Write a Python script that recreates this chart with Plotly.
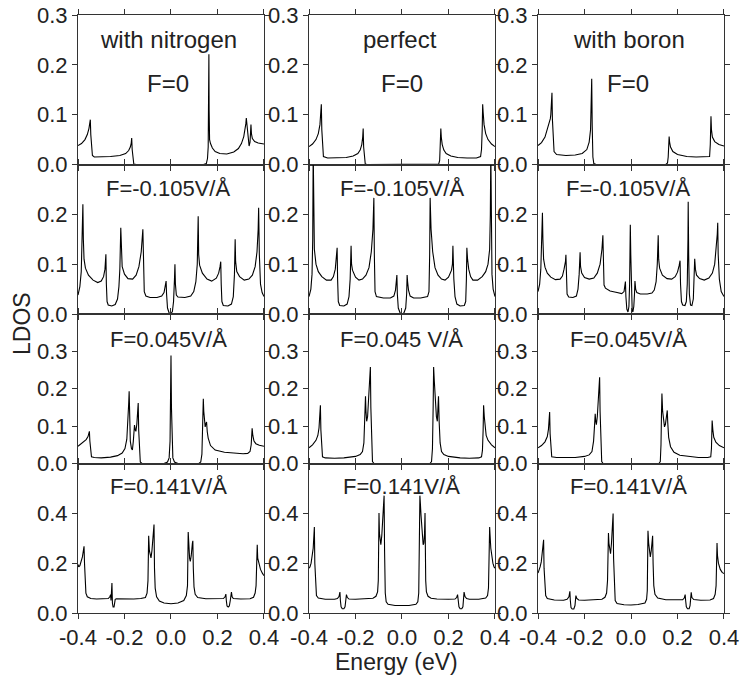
import plotly.graph_objects as go
from plotly.subplots import make_subplots

# ---------------- data (Energy in eV, LDOS) ----------------
# Row 1: F = 0
n_f0_x = [-0.400, -0.385, -0.370, -0.360, -0.353, -0.349, -0.347, -0.345, -0.342, -0.338, -0.330, -0.300, -0.260, -0.220,
          -0.195, -0.182, -0.175, -0.171, -0.169, -0.167, -0.164, -0.160, -0.150, 0.140, 0.152, 0.157, 0.160, 0.162,
          0.163, 0.164, 0.166, 0.170, 0.178, 0.190, 0.210, 0.240, 0.270, 0.290, 0.303, 0.313, 0.319, 0.322, 0.324,
          0.327, 0.331, 0.336, 0.340, 0.343, 0.344, 0.346, 0.350, 0.360, 0.375, 0.400]
n_f0_y = [0.038, 0.042, 0.050, 0.060, 0.072, 0.083, 0.090, 0.060, 0.030, 0.018, 0.015, 0.015, 0.016, 0.018,
          0.022, 0.028, 0.035, 0.043, 0.053, 0.030, 0.008, 0.001, 0.000, 0.000, 0.002, 0.012, 0.035, 0.120,
          0.221, 0.110, 0.050, 0.042, 0.033, 0.026, 0.022, 0.021, 0.025, 0.032, 0.042, 0.056, 0.070, 0.082, 0.093,
          0.075, 0.050, 0.037, 0.045, 0.065, 0.080, 0.062, 0.052, 0.046, 0.043, 0.041]

p_f0_x = [-0.400, -0.385, -0.370, -0.360, -0.353, -0.349, -0.347, -0.345, -0.342, -0.338, -0.320, -0.280, -0.240,
          -0.210, -0.190, -0.180, -0.173, -0.169, -0.167, -0.165, -0.162, -0.158, -0.150, 0.150, 0.158, 0.162, 0.165,
          0.167, 0.169, 0.173, 0.180, 0.190, 0.210, 0.240, 0.280, 0.320, 0.338, 0.342, 0.345, 0.347, 0.349, 0.353,
          0.360, 0.370, 0.385, 0.400]
p_f0_y = [0.036, 0.041, 0.050, 0.062, 0.080, 0.105, 0.121, 0.070, 0.030, 0.016, 0.013, 0.013, 0.014,
          0.017, 0.022, 0.029, 0.040, 0.055, 0.072, 0.035, 0.008, 0.001, 0.000, 0.000, 0.001, 0.008, 0.035,
          0.072, 0.055, 0.040, 0.029, 0.022, 0.017, 0.014, 0.013, 0.013, 0.016, 0.030, 0.070, 0.121, 0.105, 0.080,
          0.062, 0.050, 0.041, 0.036]

b_f0_x = [-0.400, -0.385, -0.370, -0.358, -0.350, -0.347, -0.345, -0.342, -0.340, -0.338, -0.335, -0.331, -0.320,
          -0.280, -0.240, -0.210, -0.190, -0.180, -0.174, -0.171, -0.169, -0.167, -0.164, -0.160, -0.150, 0.150,
          0.157, 0.160, 0.162, 0.164, 0.166, 0.170, 0.180, 0.200, 0.240, 0.280, 0.320, 0.338, 0.341, 0.343, 0.344,
          0.346, 0.350, 0.360, 0.378, 0.400]
b_f0_y = [0.038, 0.044, 0.055, 0.072, 0.088, 0.092, 0.100, 0.125, 0.144, 0.090, 0.045, 0.026, 0.020,
          0.018, 0.019, 0.022, 0.030, 0.045, 0.070, 0.110, 0.172, 0.080, 0.015, 0.002, 0.000, 0.000,
          0.003, 0.015, 0.035, 0.056, 0.045, 0.035, 0.026, 0.020, 0.016, 0.015, 0.015, 0.016, 0.040, 0.080, 0.097,
          0.070, 0.055, 0.046, 0.040, 0.037]

# Row 2: F = -0.105 V/A
n_fm_x = [-0.400, -0.392, -0.386, -0.382, -0.379, -0.377, -0.374, -0.368, -0.355, -0.335, -0.315, -0.300, -0.290,
          -0.284, -0.280, -0.278, -0.275, -0.270, -0.255, -0.240, -0.230, -0.224, -0.220, -0.216, -0.214, -0.210,
          -0.200, -0.185, -0.165, -0.150, -0.138, -0.128, -0.121, -0.119, -0.115, -0.108, -0.090, -0.060, -0.040,
          -0.030, -0.024, -0.021, -0.019, -0.015, -0.008, 0.000, 0.006, 0.011, 0.015, 0.017, 0.019, 0.023, 0.030,
          0.060, 0.085, 0.098, 0.107, 0.113, 0.117, 0.119, 0.123, 0.135, 0.155, 0.175, 0.195, 0.205, 0.211, 0.214,
          0.216, 0.219, 0.225, 0.245, 0.260, 0.268, 0.273, 0.276, 0.278, 0.283, 0.295, 0.315, 0.335, 0.350, 0.362,
          0.370, 0.375, 0.377, 0.380, 0.385, 0.392, 0.400]
n_fm_y = [0.038, 0.055, 0.085, 0.140, 0.220, 0.150, 0.110, 0.092, 0.078, 0.068, 0.063, 0.066, 0.075,
          0.090, 0.120, 0.060, 0.025, 0.018, 0.016, 0.019, 0.030, 0.055, 0.090, 0.173, 0.120, 0.095,
          0.080, 0.071, 0.070, 0.078, 0.095, 0.125, 0.170, 0.090, 0.045, 0.036, 0.033, 0.033, 0.036,
          0.043, 0.055, 0.066, 0.040, 0.012, 0.002, 0.001, 0.005, 0.025, 0.070, 0.100, 0.060, 0.038, 0.034,
          0.033, 0.036, 0.045, 0.065, 0.100, 0.196, 0.120, 0.098, 0.082, 0.070, 0.066, 0.072, 0.082, 0.095, 0.105,
          0.060, 0.025, 0.017, 0.016, 0.020, 0.035, 0.080, 0.150, 0.105, 0.085, 0.075, 0.068, 0.070, 0.078, 0.095,
          0.125, 0.170, 0.213, 0.120, 0.060, 0.043, 0.035]

p_fm_x = [-0.400, -0.392, -0.387, -0.384, -0.382, -0.380, -0.377, -0.370, -0.360, -0.345, -0.325, -0.305, -0.295,
          -0.287, -0.282, -0.279, -0.277, -0.274, -0.268, -0.250, -0.236, -0.228, -0.223, -0.219, -0.217, -0.213,
          -0.200, -0.185, -0.170, -0.155, -0.142, -0.132, -0.125, -0.121, -0.119, -0.116, -0.110, -0.080, -0.050,
          -0.035, -0.028, -0.024, -0.022, -0.020, -0.016, -0.008, 0.000, 0.008, 0.016, 0.020, 0.022, 0.024, 0.028,
          0.035, 0.050, 0.080, 0.110, 0.116, 0.119, 0.121, 0.125, 0.132, 0.142, 0.155, 0.170, 0.185, 0.200, 0.213,
          0.217, 0.219, 0.223, 0.228, 0.236, 0.250, 0.268, 0.274, 0.277, 0.279, 0.282, 0.287, 0.295, 0.305, 0.325,
          0.345, 0.360, 0.370, 0.377, 0.380, 0.382, 0.384, 0.387, 0.392, 0.400]
p_fm_y = [0.035, 0.050, 0.080, 0.150, 0.330, 0.200, 0.130, 0.100, 0.085, 0.075, 0.068, 0.068, 0.075,
          0.090, 0.110, 0.133, 0.070, 0.025, 0.017, 0.016, 0.020, 0.035, 0.070, 0.137, 0.100, 0.088,
          0.074, 0.068, 0.070, 0.078, 0.093, 0.125, 0.170, 0.233, 0.120, 0.045, 0.035, 0.032, 0.032,
          0.036, 0.048, 0.065, 0.078, 0.040, 0.012, 0.002, 0.000, 0.002, 0.012, 0.040, 0.078, 0.065, 0.048,
          0.036, 0.032, 0.032, 0.035, 0.045, 0.120, 0.233, 0.170, 0.125, 0.093, 0.078, 0.070, 0.068, 0.074, 0.088,
          0.100, 0.137, 0.070, 0.035, 0.020, 0.016, 0.017, 0.025, 0.070, 0.133, 0.110, 0.090, 0.075, 0.068, 0.068,
          0.075, 0.085, 0.100, 0.130, 0.200, 0.330, 0.150, 0.080, 0.050, 0.035]

b_fm_x = [-0.400, -0.393, -0.388, -0.384, -0.381, -0.379, -0.376, -0.370, -0.360, -0.345, -0.325, -0.305, -0.295,
          -0.288, -0.282, -0.280, -0.278, -0.275, -0.268, -0.250, -0.235, -0.228, -0.223, -0.219, -0.217, -0.212,
          -0.200, -0.180, -0.160, -0.145, -0.133, -0.125, -0.121, -0.119, -0.116, -0.110, -0.090, -0.060, -0.040,
          -0.030, -0.026, -0.024, -0.022, -0.018, -0.013, -0.009, -0.006, -0.004, -0.003, -0.001, 0.002, 0.005,
          0.008, 0.012, 0.015, 0.017, 0.020, 0.025, 0.040, 0.070, 0.090, 0.100, 0.108, 0.113, 0.117, 0.119, 0.123,
          0.135, 0.155, 0.175, 0.190, 0.200, 0.207, 0.211, 0.213, 0.217, 0.222, 0.232, 0.238, 0.242, 0.245, 0.246,
          0.248, 0.251, 0.256, 0.262, 0.268, 0.271, 0.274, 0.277, 0.282, 0.295, 0.315, 0.335, 0.350, 0.360, 0.367,
          0.371, 0.373, 0.375, 0.380, 0.388, 0.400]
b_fm_y = [0.045, 0.060, 0.090, 0.140, 0.203, 0.150, 0.110, 0.094, 0.082, 0.074, 0.069, 0.070, 0.076,
          0.090, 0.105, 0.119, 0.065, 0.040, 0.034, 0.033, 0.036, 0.050, 0.080, 0.124, 0.095, 0.082,
          0.073, 0.070, 0.072, 0.082, 0.100, 0.130, 0.158, 0.100, 0.058, 0.052, 0.046, 0.043, 0.041,
          0.045, 0.055, 0.065, 0.035, 0.010, 0.004, 0.015, 0.060, 0.130, 0.179, 0.120, 0.040, 0.008,
          0.004, 0.015, 0.040, 0.066, 0.050, 0.043, 0.040, 0.040, 0.042, 0.048, 0.065, 0.100, 0.158, 0.110, 0.092,
          0.078, 0.071, 0.070, 0.075, 0.084, 0.097, 0.107, 0.060, 0.025, 0.018, 0.017, 0.025, 0.060, 0.150, 0.225,
          0.120, 0.040, 0.018, 0.017, 0.030, 0.070, 0.111, 0.090, 0.078, 0.071, 0.068, 0.072, 0.082, 0.100, 0.130,
          0.160, 0.183, 0.120, 0.070, 0.045, 0.035]

# Row 3: F = 0.045 V/A
n_f1_x = [-0.400, -0.380, -0.365, -0.357, -0.353, -0.351, -0.349, -0.346, -0.342, -0.330, -0.300, -0.260, -0.230,
          -0.210, -0.198, -0.190, -0.185, -0.182, -0.180, -0.178, -0.175, -0.170, -0.166, -0.162, -0.159, -0.157,
          -0.154, -0.151, -0.147, -0.144, -0.141, -0.139, -0.136, -0.132, -0.125, -0.030, -0.015, -0.008, -0.004,
          -0.002, 0.000, 0.002, 0.004, 0.008, 0.015, 0.030, 0.120, 0.128, 0.133, 0.136, 0.139, 0.141, 0.144, 0.147,
          0.150, 0.153, 0.156, 0.160, 0.170, 0.190, 0.230, 0.270, 0.310, 0.330, 0.340, 0.345, 0.347, 0.349, 0.352,
          0.357, 0.365, 0.380, 0.400]
n_f1_y = [0.046, 0.055, 0.064, 0.072, 0.080, 0.086, 0.060, 0.030, 0.018, 0.016, 0.015, 0.017, 0.021,
          0.028, 0.040, 0.065, 0.110, 0.160, 0.193, 0.110, 0.060, 0.040, 0.036, 0.060, 0.090, 0.103,
          0.090, 0.086, 0.105, 0.135, 0.162, 0.090, 0.025, 0.004, 0.000, 0.000, 0.004, 0.015, 0.060,
          0.150, 0.289, 0.150, 0.060, 0.015, 0.004, 0.000, 0.000, 0.004, 0.025, 0.090, 0.173, 0.140, 0.100, 0.098,
          0.106, 0.111, 0.085, 0.068, 0.048, 0.036, 0.030, 0.027, 0.026, 0.027, 0.032, 0.050, 0.075, 0.094, 0.075,
          0.060, 0.053, 0.049, 0.046]

p_f1_x = [-0.400, -0.385, -0.370, -0.362, -0.357, -0.354, -0.351, -0.349, -0.346, -0.342, -0.330, -0.290, -0.250,
          -0.200, -0.180, -0.170, -0.164, -0.160, -0.157, -0.155, -0.152, -0.148, -0.143, -0.139, -0.136, -0.134,
          -0.131, -0.127, -0.120, 0.120, 0.127, 0.131, 0.134, 0.136, 0.139, 0.143, 0.148, 0.152, 0.155, 0.157,
          0.160, 0.164, 0.170, 0.180, 0.200, 0.250, 0.290, 0.330, 0.342, 0.346, 0.349, 0.351, 0.354, 0.357, 0.362,
          0.370, 0.385, 0.400]
p_f1_y = [0.042, 0.050, 0.062, 0.075, 0.095, 0.125, 0.156, 0.090, 0.035, 0.018, 0.015, 0.014, 0.015,
          0.019, 0.024, 0.032, 0.055, 0.110, 0.180, 0.140, 0.113, 0.125, 0.170, 0.220, 0.258, 0.150,
          0.040, 0.005, 0.000, 0.000, 0.005, 0.040, 0.150, 0.258, 0.220, 0.170, 0.125, 0.113, 0.140, 0.180,
          0.110, 0.055, 0.032, 0.024, 0.019, 0.015, 0.014, 0.015, 0.018, 0.035, 0.090, 0.156, 0.125, 0.095, 0.075,
          0.062, 0.050, 0.042]

b_f1_x = [-0.400, -0.385, -0.370, -0.360, -0.355, -0.352, -0.350, -0.348, -0.345, -0.341, -0.320, -0.280, -0.240,
          -0.200, -0.180, -0.168, -0.161, -0.157, -0.154, -0.152, -0.149, -0.145, -0.140, -0.135, -0.133, -0.130,
          -0.126, -0.120, 0.120, 0.126, 0.129, 0.131, 0.133, 0.136, 0.140, 0.144, 0.148, 0.152, 0.156, 0.158,
          0.162, 0.170, 0.185, 0.210, 0.250, 0.290, 0.330, 0.343, 0.346, 0.348, 0.349, 0.352, 0.356, 0.365, 0.380,
          0.400]
b_f1_y = [0.042, 0.048, 0.058, 0.072, 0.092, 0.115, 0.138, 0.080, 0.032, 0.018, 0.016, 0.015, 0.016,
          0.019, 0.023, 0.032, 0.060, 0.100, 0.133, 0.115, 0.104, 0.125, 0.170, 0.231, 0.140, 0.040,
          0.005, 0.000, 0.000, 0.005, 0.050, 0.130, 0.187, 0.140, 0.110, 0.098, 0.105, 0.120, 0.142, 0.110,
          0.070, 0.045, 0.030, 0.022, 0.018, 0.016, 0.016, 0.018, 0.040, 0.080, 0.115, 0.090, 0.070, 0.057, 0.048,
          0.042]

# Row 4: F = 0.141 V/A
n_f2_x = [-0.400, -0.397, -0.392, -0.386, -0.381, -0.377, -0.374, -0.372, -0.370, -0.366, -0.360, -0.345, -0.320,
          -0.290, -0.270, -0.263, -0.260, -0.258, -0.256, -0.254, -0.252, -0.249, -0.245, -0.243, -0.240, -0.235,
          -0.200, -0.160, -0.130, -0.110, -0.103, -0.099, -0.097, -0.096, -0.093, -0.089, -0.086, -0.082, -0.078,
          -0.075, -0.073, -0.071, -0.068, -0.062, -0.050, -0.030, 0.000, 0.030, 0.055, 0.066, 0.071, 0.074, 0.076,
          0.080, 0.083, 0.087, 0.092, 0.094, 0.096, 0.099, 0.104, 0.115, 0.150, 0.200, 0.225, 0.232, 0.236, 0.238,
          0.241, 0.246, 0.251, 0.255, 0.258, 0.260, 0.263, 0.268, 0.300, 0.340, 0.355, 0.362, 0.366, 0.369, 0.371,
          0.373, 0.377, 0.385, 0.393, 0.400]
n_f2_y = [0.195, 0.185, 0.190, 0.205, 0.225, 0.250, 0.268, 0.200, 0.120, 0.080, 0.065, 0.058, 0.056,
          0.056, 0.058, 0.065, 0.074, 0.050, 0.080, 0.120, 0.040, 0.024, 0.024, 0.040, 0.055, 0.057,
          0.056, 0.056, 0.058, 0.062, 0.080, 0.130, 0.250, 0.310, 0.250, 0.225, 0.221, 0.250, 0.300,
          0.340, 0.355, 0.180, 0.100, 0.065, 0.048, 0.040, 0.037, 0.040, 0.050, 0.070, 0.110, 0.325, 0.280,
          0.220, 0.207, 0.230, 0.280, 0.290, 0.180, 0.105, 0.075, 0.062, 0.057, 0.056, 0.058, 0.064, 0.076, 0.050,
          0.028, 0.024, 0.028, 0.050, 0.075, 0.084, 0.065, 0.058, 0.056, 0.057, 0.063, 0.080, 0.110, 0.180, 0.274,
          0.220, 0.200, 0.175, 0.160, 0.150]

p_f2_x = [-0.400, -0.396, -0.391, -0.386, -0.382, -0.379, -0.377, -0.375, -0.372, -0.368, -0.360, -0.330, -0.290,
          -0.278, -0.271, -0.267, -0.265, -0.262, -0.257, -0.250, -0.245, -0.242, -0.239, -0.235, -0.228, -0.200,
          -0.150, -0.125, -0.112, -0.105, -0.102, -0.100, -0.099, -0.097, -0.094, -0.091, -0.087, -0.082, -0.079,
          -0.077, -0.075, -0.072, -0.068, -0.060, -0.030, 0.000, 0.030, 0.060, 0.068, 0.072, 0.075, 0.077, 0.079,
          0.082, 0.087, 0.091, 0.094, 0.097, 0.099, 0.100, 0.102, 0.105, 0.112, 0.125, 0.150, 0.200, 0.228, 0.235,
          0.239, 0.242, 0.245, 0.250, 0.257, 0.262, 0.265, 0.267, 0.271, 0.278, 0.290, 0.330, 0.360, 0.368, 0.372,
          0.375, 0.377, 0.379, 0.382, 0.386, 0.391, 0.396, 0.400]
p_f2_y = [0.180, 0.185, 0.200, 0.225, 0.260, 0.310, 0.345, 0.200, 0.100, 0.070, 0.060, 0.055, 0.055,
          0.058, 0.066, 0.084, 0.050, 0.025, 0.017, 0.017, 0.025, 0.050, 0.074, 0.062, 0.056, 0.055,
          0.056, 0.059, 0.067, 0.085, 0.130, 0.250, 0.401, 0.320, 0.280, 0.274, 0.310, 0.390, 0.440,
          0.471, 0.250, 0.080, 0.045, 0.035, 0.030, 0.029, 0.030, 0.035, 0.045, 0.080, 0.250, 0.471, 0.440,
          0.390, 0.310, 0.274, 0.280, 0.320, 0.401, 0.250, 0.130, 0.085, 0.067, 0.059, 0.056, 0.055, 0.056, 0.062,
          0.074, 0.050, 0.025, 0.017, 0.017, 0.025, 0.050, 0.084, 0.066, 0.058, 0.055, 0.055, 0.060, 0.070, 0.100,
          0.200, 0.345, 0.310, 0.260, 0.225, 0.200, 0.185, 0.180]

b_f2_x = [-0.400, -0.396, -0.391, -0.386, -0.382, -0.379, -0.376, -0.374, -0.371, -0.367, -0.360, -0.330, -0.290,
          -0.275, -0.267, -0.263, -0.261, -0.258, -0.253, -0.246, -0.241, -0.239, -0.237, -0.233, -0.225, -0.200,
          -0.150, -0.125, -0.112, -0.105, -0.101, -0.099, -0.097, -0.095, -0.091, -0.088, -0.084, -0.080, -0.077,
          -0.075, -0.072, -0.068, -0.060, -0.030, 0.000, 0.030, 0.060, 0.067, 0.070, 0.072, 0.073, 0.076, 0.080,
          0.083, 0.087, 0.091, 0.093, 0.095, 0.098, 0.103, 0.115, 0.150, 0.200, 0.222, 0.229, 0.233, 0.235, 0.238,
          0.243, 0.250, 0.254, 0.257, 0.259, 0.262, 0.270, 0.300, 0.340, 0.355, 0.362, 0.366, 0.368, 0.370, 0.372,
          0.376, 0.384, 0.392, 0.400]
b_f2_y = [0.160, 0.170, 0.185, 0.205, 0.235, 0.265, 0.294, 0.180, 0.100, 0.070, 0.058, 0.052, 0.051,
          0.055, 0.065, 0.087, 0.050, 0.022, 0.016, 0.016, 0.030, 0.055, 0.070, 0.058, 0.052, 0.051,
          0.052, 0.055, 0.063, 0.080, 0.130, 0.250, 0.321, 0.280, 0.240, 0.238, 0.280, 0.350, 0.399,
          0.220, 0.090, 0.050, 0.038, 0.033, 0.032, 0.034, 0.040, 0.055, 0.090, 0.200, 0.330, 0.280, 0.230,
          0.225, 0.250, 0.290, 0.310, 0.200, 0.110, 0.075, 0.060, 0.053, 0.051, 0.053, 0.060, 0.074, 0.050, 0.025,
          0.017, 0.017, 0.030, 0.060, 0.083, 0.062, 0.054, 0.051, 0.052, 0.058, 0.075, 0.110, 0.180, 0.281, 0.230,
          0.200, 0.175, 0.163, 0.158]

panel_x = [[n_f0_x, p_f0_x, b_f0_x], [n_fm_x, p_fm_x, b_fm_x], [n_f1_x, p_f1_x, b_f1_x], [n_f2_x, p_f2_x, b_f2_x]]
panel_y = [[n_f0_y, p_f0_y, b_f0_y], [n_fm_y, p_fm_y, b_fm_y], [n_f1_y, p_f1_y, b_f1_y], [n_f2_y, p_f2_y, b_f2_y]]

column_titles = ["with nitrogen", "perfect", "with boron"]
row_labels = [["F=0", "F=0", "F=0"],
              ["F=-0.105V/Å", "F=-0.105V/Å", "F=-0.105V/Å"],
              ["F=0.045V/Å", "F=0.045 V/Å", "F=0.045V/Å"],
              ["F=0.141V/Å", "F=0.141V/Å", "F=0.141V/Å"]]
row_yrange = [[0, 0.3], [0, 0.3], [0, 0.4], [0, 0.6]]
row_yticks = [[0.0, 0.1, 0.2, 0.3], [0.0, 0.1, 0.2], [0.0, 0.1, 0.2, 0.3], [0.0, 0.2, 0.4]]
row_yticktext = [["0.0", "0.1", "0.2", "0.3"], ["0.0", "0.1", "0.2"], ["0.0", "0.1", "0.2", "0.3"],
                 ["0.0", "0.2", "0.4"]]
row_label_y = [0.163, 0.252, 0.331, 0.507]
x_ticks = [-0.4, -0.2, 0.0, 0.2, 0.4]
x_ticktext = ["-0.4", "-0.2", "0.0", "0.2", "0.4"]

# ---------------- figure ----------------
FONT = "Liberation Sans, Arial, Helvetica, sans-serif"
TXT = "#222222"
col_domains = [[0.0, 0.2879], [0.3576, 0.6455], [0.7121, 1.0]]
row_domains = [[0.75, 1.0], [0.5, 0.75], [0.25, 0.5], [0.0, 0.25]]

fig = make_subplots(rows=4, cols=3, horizontal_spacing=0.05, vertical_spacing=0.0)

annotations = []
for r in range(4):
    for c in range(3):
        idx = r * 3 + c + 1
        fig.add_trace(go.Scatter(x=panel_x[r][c], y=panel_y[r][c], mode="lines",
                                 line=dict(color="black", width=1.1), showlegend=False,
                                 hoverinfo="skip"), row=r + 1, col=c + 1)
        sfx = "" if idx == 1 else str(idx)
        fig.layout["xaxis" + sfx].update(
            domain=col_domains[c], range=[-0.4, 0.4], tickvals=x_ticks, ticktext=x_ticktext,
            showticklabels=(r == 3), ticks="outside", ticklen=5, tickcolor="#333", automargin=False,
            ticklabeloverflow="allow",
            showline=True, linecolor="#333", linewidth=1, mirror="ticks", showgrid=False, zeroline=False,
            tickfont=dict(family=FONT, size=22, color=TXT))
        fig.layout["yaxis" + sfx].update(
            domain=row_domains[r], range=row_yrange[r], tickvals=row_yticks[r], ticktext=row_yticktext[r],
            ticks="outside", ticklen=5, tickcolor="#333", automargin=False,
            ticklabeloverflow="allow",
            showline=True, linecolor="#333", linewidth=1, mirror="ticks", showgrid=False, zeroline=False,
            tickfont=dict(family=FONT, size=22, color=TXT))
        xa = "x" + sfx
        ya = "y" + sfx
        if r == 0:
            annotations.append(dict(x=-0.01, y=0.25, xref=xa, yref=ya, text=column_titles[c], showarrow=False,
                                    font=dict(family=FONT, size=24, color=TXT)))
        annotations.append(dict(x=0.0 if c == 1 else -0.012, y=row_label_y[r], xref=xa, yref=ya,
                                text=row_labels[r][c], showarrow=False,
                                font=dict(family=FONT, size=24 if r == 0 else 22, color=TXT)))

annotations.append(dict(x=-0.0867, y=0.485, xref="paper", yref="paper", text="LDOS", textangle=-90,
                        showarrow=False, xanchor="center", yanchor="middle",
                        font=dict(family=FONT, size=23, color=TXT)))
annotations.append(dict(x=0.493, y=-0.082, xref="paper", yref="paper", text="Energy (eV)",
                        showarrow=False, xanchor="center", yanchor="middle",
                        font=dict(family=FONT, size=23, color=TXT)))

fig.update_layout(width=740, height=680, margin=dict(l=78, r=16, t=15, b=67, autoexpand=False),
                  paper_bgcolor="white", plot_bgcolor="white", annotations=annotations)

fig.write_html("out.html", config={"displayModeBar": False},
               post_script="document.body.style.margin='0';document.body.style.overflow='hidden';")
